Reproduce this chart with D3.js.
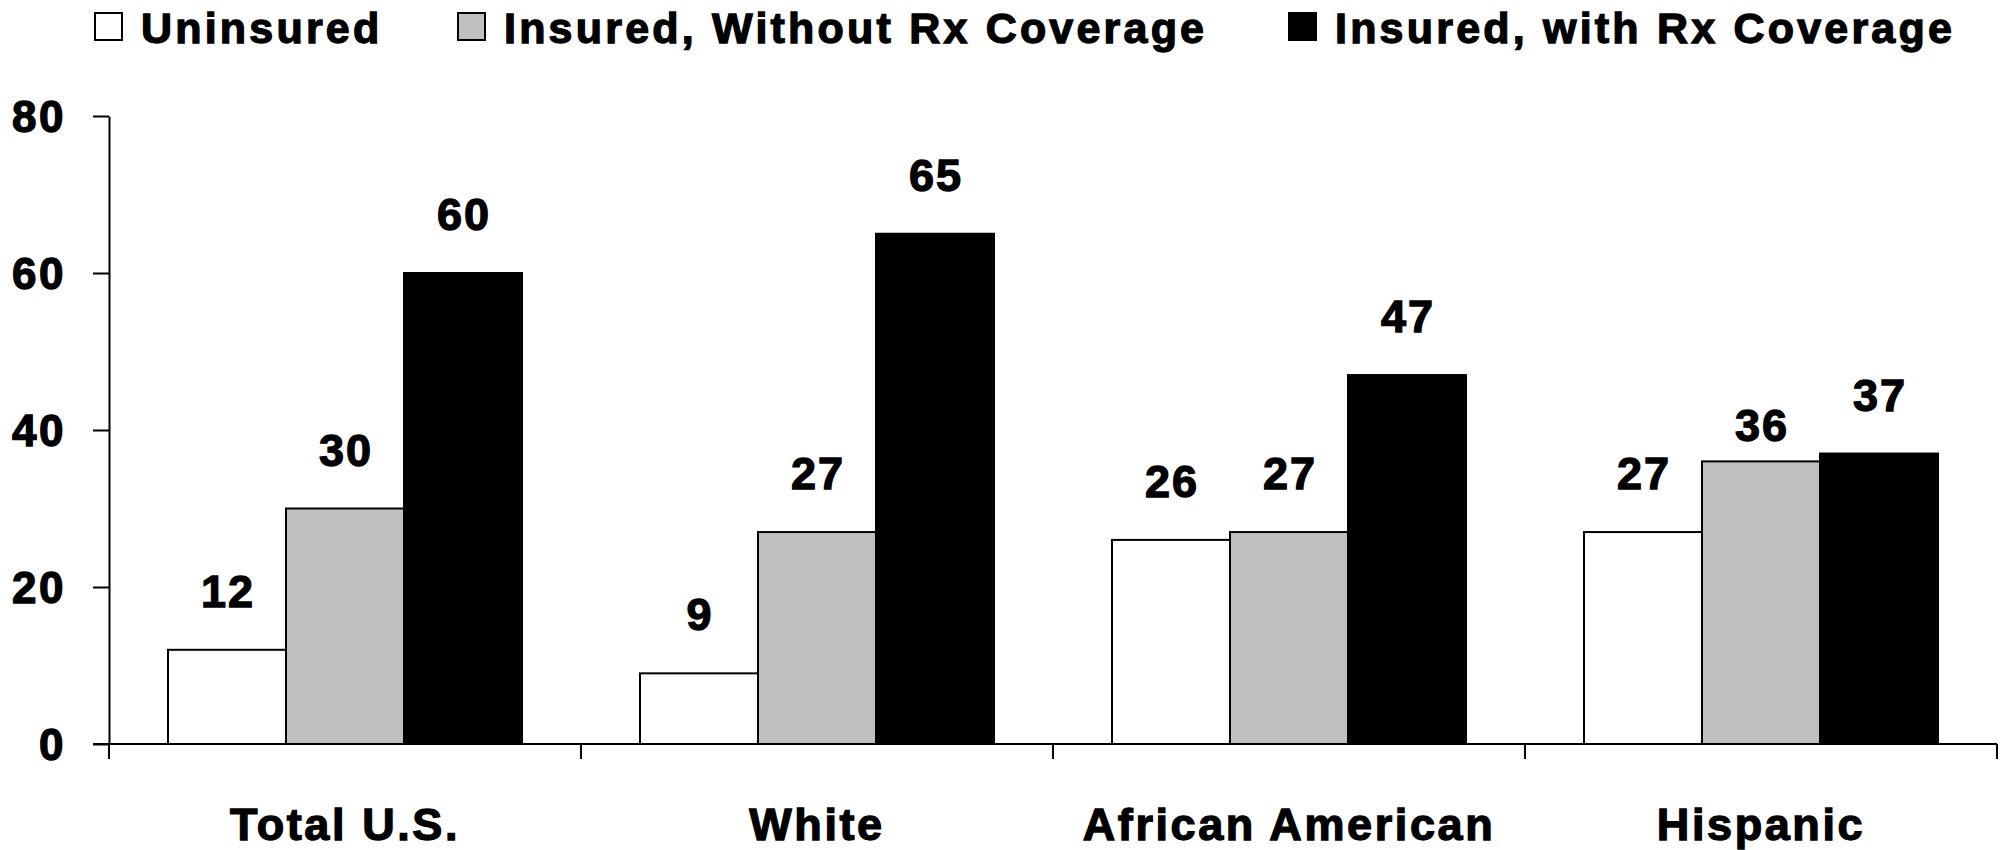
<!DOCTYPE html>
<html>
<head>
<meta charset="utf-8">
<script src="https://cdn.jsdelivr.net/npm/d3@7"></script>
<style>
  html, body { margin: 0; padding: 0; background: #fff; }
  svg text { font-family: "Liberation Sans", Arial, sans-serif; font-weight: bold; fill: #000; stroke: #000; stroke-width: 1.3px; }
</style>
</head>
<body>
<svg id="chart" width="2007" height="850"></svg>
<script>
// ---- data ----
const categories = ["Total U.S.", "White", "African American", "Hispanic"];
const seriesNames = ["Uninsured", "Insured, Without Rx Coverage", "Insured, with Rx Coverage"];
const uninsured = [12, 9, 26, 27];
const insuredNoRx = [30, 27, 27, 36];
const insuredRx = [60, 65, 47, 37];
const yTicks = [0, 20, 40, 60, 80];

(function () {
const seriesValues = [uninsured, insuredNoRx, insuredRx];
const seriesColors = ["#ffffff", "#c0c0c0", "#000000"];

// ---- layout ----
const svg = d3.select("#chart");
const mLeft = 109, mRight = 1997, mTop = 116, mBottom = 744;

const x0 = d3.scaleBand().domain(categories).range([mLeft, mRight]).paddingInner(0).paddingOuter(0);
const x1 = d3.scaleBand().domain(d3.range(seriesNames.length)).range([0, x0.bandwidth()]).paddingInner(0).paddingOuter(0.5);
const y = d3.scaleLinear().domain([0, 80]).range([mBottom, mTop]);

// bars
const groups = svg.append("g").selectAll("g")
  .data(categories)
  .join("g")
  .attr("transform", d => `translate(${x0(d)},0)`);

groups.each(function(cat, ci) {
  const g = d3.select(this);
  seriesValues.forEach((vals, si) => {
    const v = vals[ci];
    g.append("rect")
      .attr("x", x1(si))
      .attr("y", y(v))
      .attr("width", x1.bandwidth())
      .attr("height", y(0) - y(v))
      .attr("fill", seriesColors[si])
      .attr("stroke", "#000")
      .attr("stroke-width", 2);
  });
});

// value labels
groups.each(function(cat, ci) {
  const g = d3.select(this);
  seriesValues.forEach((vals, si) => {
    const v = vals[ci];
    // one label in the reference sits closer to its bar
    const lift = (ci === 3 && si === 1) ? 20 : 43;
    g.append("text")
      .attr("x", x1(si) + x1.bandwidth() / 2 + 1)
      .attr("y", y(v) - lift)
      .attr("text-anchor", "middle")
      .style("font-size", "45px")
      .style("letter-spacing", "2px")
      .text(v);
  });
});

// y axis
const yAxis = d3.axisLeft(y).tickValues(yTicks).tickSize(16).tickPadding(27).tickSizeOuter(0);
const ya = svg.append("g").attr("transform", `translate(${mLeft},0)`).call(yAxis);
ya.select(".domain").attr("stroke", "#000").attr("stroke-width", 2);
ya.selectAll(".tick line").attr("stroke", "#000").attr("stroke-width", 2);
ya.selectAll(".tick text")
  .style("font-size", "44px")
  .style("letter-spacing", "2.5px")
  .attr("fill", "#000")
  .attr("dy", "0.36em");

// x axis baseline
const xa = svg.append("g").attr("transform", `translate(0,${mBottom})`);
xa.append("line")
  .attr("x1", mLeft - 16).attr("x2", mRight)
  .attr("y1", 0).attr("y2", 0)
  .attr("stroke", "#000").attr("stroke-width", 2);
// category divider ticks
const dividers = categories.map(c => x0(c)).concat([x0(categories[categories.length - 1]) + x0.bandwidth()]);
xa.selectAll("line.div")
  .data(dividers)
  .join("line")
  .attr("class", "div")
  .attr("x1", d => d).attr("x2", d => d)
  .attr("y1", 0).attr("y2", 15)
  .attr("stroke", "#000").attr("stroke-width", 2);
// category labels
xa.selectAll("text.cat")
  .data(categories)
  .join("text")
  .attr("class", "cat")
  .attr("x", d => x0(d) + x0.bandwidth() / 2)
  .attr("y", 96)
  .attr("text-anchor", "middle")
  .style("font-size", "45px")
  .style("letter-spacing", "2.6px")
  .text(d => d);

// legend
const legendX = [94, 457, 1288];
const legend = svg.append("g");
seriesNames.forEach((name, i) => {
  legend.append("rect")
    .attr("x", legendX[i] + 1)
    .attr("y", 13)
    .attr("width", 27)
    .attr("height", 27)
    .attr("fill", seriesColors[i])
    .attr("stroke", "#000")
    .attr("stroke-width", 2);
  legend.append("text")
    .attr("x", legendX[i] + 47)
    .attr("y", 43)
    .style("font-size", "43px")
    .style("letter-spacing", "3.2px")
    .text(name);
});
})();
</script>
</body>
</html>
